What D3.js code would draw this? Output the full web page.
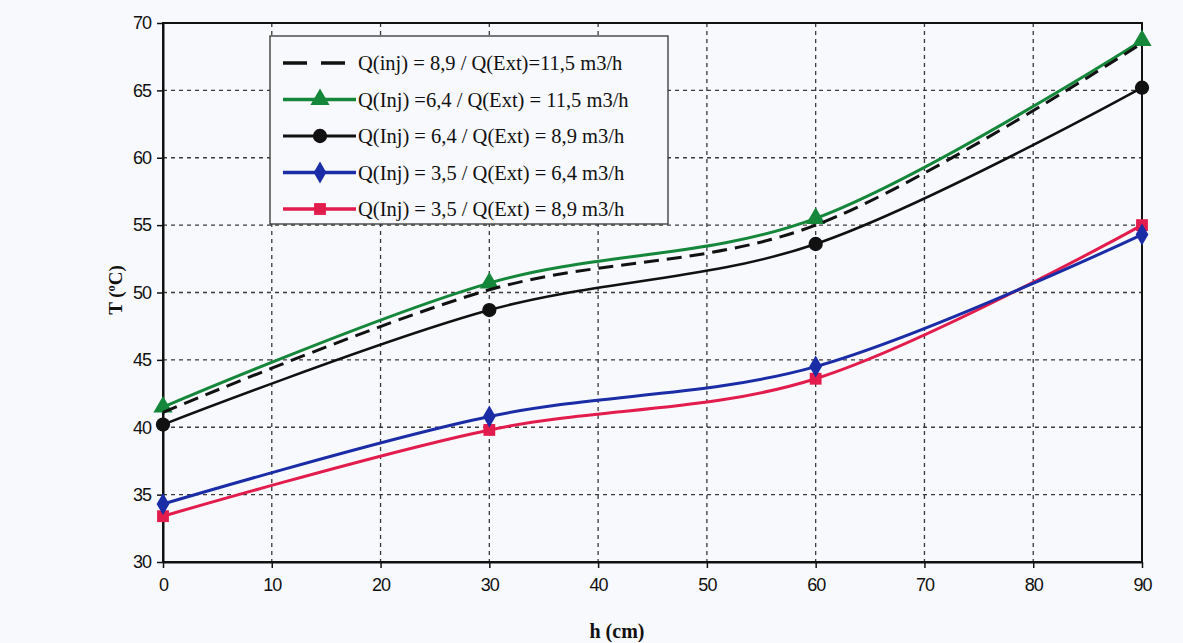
<!DOCTYPE html>
<html>
<head>
<meta charset="utf-8">
<script src="https://cdn.jsdelivr.net/npm/d3@7"></script>
<style>
  html, body { margin: 0; padding: 0; background: #f8f9fd; }
  svg { display: block; }
</style>
</head>
<body>
<svg id="chart" width="1183" height="643"></svg>
<script>
// Heights along the probe (cm)
const heights = [0, 30, 60, 90];

// Temperatures (°C) for each injection / extraction flow pair
const tInj89Ext115 = [41.1, 50.2, 55.0, 68.5];
const tInj64Ext115 = [41.5, 50.7, 55.5, 68.7];
const tInj64Ext89  = [40.2, 48.7, 53.6, 65.2];
const tInj35Ext64  = [34.3, 40.8, 44.5, 54.3];
const tInj35Ext89  = [33.4, 39.8, 43.6, 55.0];

const seriesNames = [
  "Q(inj) = 8,9 / Q(Ext)=11,5 m3/h",
  "Q(Inj) =6,4 / Q(Ext) = 11,5 m3/h",
  "Q(Inj) = 6,4 / Q(Ext) = 8,9 m3/h",
  "Q(Inj) = 3,5 / Q(Ext) = 6,4 m3/h",
  "Q(Inj) = 3,5 / Q(Ext) = 8,9 m3/h"
];

const xTicks = [0, 10, 20, 30, 40, 50, 60, 70, 80, 90];
const yTicks = [30, 35, 40, 45, 50, 55, 60, 65, 70];

const series = [
  { name: seriesNames[0], values: tInj89Ext115, color: "#111111", width: 3,   dash: "15,8", marker: null },
  { name: seriesNames[1], values: tInj64Ext115, color: "#15873a", width: 3,   dash: null,   marker: "triangle" },
  { name: seriesNames[2], values: tInj64Ext89,  color: "#111111", width: 2.5, dash: null,   marker: "circle" },
  { name: seriesNames[3], values: tInj35Ext64,  color: "#1a2ca6", width: 3,   dash: null,   marker: "diamond" },
  { name: seriesNames[4], values: tInj35Ext89,  color: "#e21c4c", width: 3,   dash: null,   marker: "square" }
];

const svg = d3.select("#chart");
const plot = { left: 163, right: 1142, top: 23, bottom: 562 };

const x = d3.scaleLinear().domain([0, 90]).range([plot.left, plot.right]);
const y = d3.scaleLinear().domain([30, 70]).range([plot.bottom, plot.top]);

// Dashed grid
const grid = svg.append("g");
grid.selectAll("line.vg").data(xTicks.slice(1, -1)).join("line")
  .attr("x1", d => x(d)).attr("x2", d => x(d))
  .attr("y1", plot.top).attr("y2", plot.bottom)
  .attr("stroke", "#3a3a3a").attr("stroke-width", 1.3).attr("stroke-dasharray", "4,4");
grid.selectAll("line.hg").data(yTicks.slice(1, -1)).join("line")
  .attr("x1", plot.left).attr("x2", plot.right)
  .attr("y1", d => y(d)).attr("y2", d => y(d))
  .attr("stroke", "#3a3a3a").attr("stroke-width", 1.3).attr("stroke-dasharray", "4,4");

// Axes
const xAxis = svg.append("g")
  .attr("transform", `translate(0,${plot.bottom})`)
  .call(d3.axisBottom(x).tickValues(xTicks).tickSize(6).tickPadding(10).tickSizeOuter(0));
const yAxis = svg.append("g")
  .attr("transform", `translate(${plot.left},0)`)
  .call(d3.axisLeft(y).tickValues(yTicks).tickSize(6).tickPadding(6).tickSizeOuter(0));
[xAxis, yAxis].forEach(a => {
  a.select(".domain").attr("stroke", "#111").attr("stroke-width", 2);
  a.selectAll(".tick line").attr("stroke", "#111").attr("stroke-width", 1.5);
  a.selectAll(".tick text")
    .attr("fill", "#111")
    .style("font-family", "'Liberation Sans', Arial, sans-serif")
    .style("font-size", "18px")
    .style("letter-spacing", "-1px");
});

// Plot frame
svg.append("rect")
  .attr("x", plot.left).attr("y", plot.top)
  .attr("width", plot.right - plot.left).attr("height", plot.bottom - plot.top)
  .attr("fill", "none").attr("stroke", "#111").attr("stroke-width", 2);

// Axis titles
svg.append("text")
  .attr("transform", `translate(122,290) rotate(-90)`)
  .attr("text-anchor", "middle")
  .style("font-family", "'Liberation Serif', 'Times New Roman', serif")
  .style("font-size", "19px").style("font-weight", "bold")
  .attr("fill", "#111")
  .text("T (ºC)");
svg.append("text")
  .attr("x", 617).attr("y", 638)
  .attr("text-anchor", "middle")
  .style("font-family", "'Liberation Serif', 'Times New Roman', serif")
  .style("font-size", "20px").style("font-weight", "bold")
  .attr("fill", "#111")
  .text("h (cm)");

// Marker shapes
const symbolFor = {
  triangle: d3.symbol().type(d3.symbolTriangle).size(160),
  circle:   d3.symbol().type(d3.symbolCircle).size(160),
  diamond:  d3.symbol().type(d3.symbolDiamond).size(140),
  square:   d3.symbol().type(d3.symbolSquare).size(140)
};

const line = d3.line()
  .x((d, i) => x(heights[i]))
  .y(d => y(d))
  .curve(d3.curveCatmullRom.alpha(0));

// Draw series, bottom-most legend entry first so the dashed line sits on top
const drawOrder = [4, 3, 2, 1, 0];
drawOrder.forEach(k => {
  const s = series[k];
  const g = svg.append("g");
  g.append("path")
    .attr("d", line(s.values))
    .attr("fill", "none")
    .attr("stroke", s.color)
    .attr("stroke-width", s.width)
    .attr("stroke-dasharray", s.dash);
  if (s.marker) {
    g.selectAll("path.m").data(s.values).join("path")
      .attr("class", "m")
      .attr("d", symbolFor[s.marker])
      .attr("transform", (d, i) => `translate(${x(heights[i])},${y(d)})`)
      .attr("fill", s.color);
  }
});

// Legend
const legend = svg.append("g").attr("transform", "translate(270,36)");
legend.append("rect")
  .attr("width", 398).attr("height", 188)
  .attr("fill", "#f8f9fd").attr("stroke", "#333").attr("stroke-width", 1.3);
series.forEach((s, i) => {
  const row = legend.append("g").attr("transform", `translate(0,${27 + i * 36.5})`);
  row.append("line")
    .attr("x1", 13).attr("x2", 86).attr("y1", 0).attr("y2", 0)
    .attr("stroke", s.color).attr("stroke-width", s.width + 0.5)
    .attr("stroke-dasharray", s.dash ? "24,14" : null);
  if (s.marker) {
    row.append("path")
      .attr("d", symbolFor[s.marker])
      .attr("transform", "translate(50,0)")
      .attr("fill", s.color);
  }
  row.append("text")
    .attr("x", 88).attr("y", 0).attr("dy", "0.35em")
    .style("font-family", "'Liberation Serif', 'Times New Roman', serif")
    .style("font-size", "20.5px")
    .attr("fill", "#111")
    .text(s.name);
});
</script>
</body>
</html>
